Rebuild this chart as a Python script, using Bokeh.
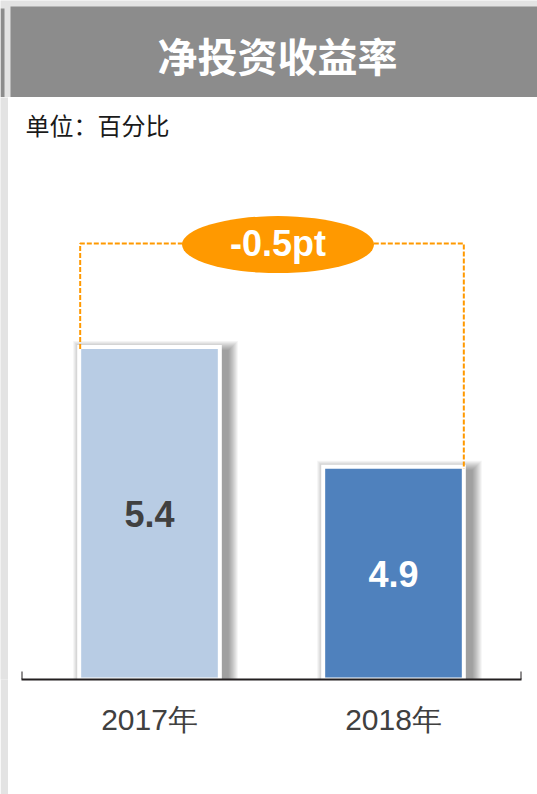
from bokeh.plotting import figure
from bokeh.layouts import column, row
from bokeh.models import ColumnDataSource, FactorRange, Range1d
from bokeh.core.properties import value
from bokeh.embed import file_html
from bokeh.resources import INLINE

# ---- data ----
title_text = "净投资收益率"
unit_text = "单位：百分比"
categories = ["2017年", "2018年"]
values = [5.4, 4.9]

# ---- style ----
bar_colors = ["#b8cce4", "#4f81bd"]
label_colors = ["#404040", "#ffffff"]
ORANGE = "#ff9900"
TITLE_BG = "#8c8c8c"
EDGE_BG = "#e3e3e3"

W = 537
TITLE_H = 97
MAIN_H = 697
STRIP_W = 8
MAIN_W = W - STRIP_W
BORDER_L = 13
BORDER_R = 16
BORDER_B = 115
FRAME_W = MAIN_W - BORDER_L - BORDER_R
FRAME_H = MAIN_H - BORDER_B

Y0, Y1 = 4.02, 6.45
RP = 0.0246
BAR_W = 0.56

n = len(categories)
px_x = (n + 2 * RP) / FRAME_W
px_y = (Y1 - Y0) / FRAME_H

# ---- title bar ----
t = figure(width=W, height=TITLE_H, x_range=Range1d(0, W), y_range=Range1d(TITLE_H, 0),
           toolbar_location=None, output_backend="svg", min_border=0,
           x_axis_location=None, y_axis_location=None, outline_line_color=None,
           background_fill_color=EDGE_BG, border_fill_color=EDGE_BG)
t.grid.visible = False
t.quad(left=[10, 0], right=[W, 4], top=[6, 8], bottom=[TITLE_H, TITLE_H],
       fill_color=TITLE_BG, line_color=None)
t.text(x=[277], y=[54], text=[title_text], text_font=value("Noto Sans CJK SC"),
       text_font_style="bold", text_font_size="40px", text_color="white",
       text_align="center", text_baseline="middle")

# ---- left edge strip ----
s = figure(width=STRIP_W, height=MAIN_H, toolbar_location=None, output_backend="svg",
           min_border=0, x_axis_location=None, y_axis_location=None,
           outline_line_color=None, background_fill_color=EDGE_BG,
           border_fill_color=EDGE_BG)
s.grid.visible = False

# ---- main chart ----
p = figure(width=MAIN_W, height=MAIN_H,
           x_range=FactorRange(factors=categories, range_padding=RP),
           y_range=Range1d(Y0, Y1),
           toolbar_location=None, output_backend="svg", y_axis_location=None,
           min_border_left=BORDER_L, min_border_right=BORDER_R,
           min_border_top=0, min_border_bottom=BORDER_B,
           outline_line_color=None, background_fill_color="white",
           border_fill_color="white")
p.grid.visible = False

centers = [i + 0.5 for i in range(n)]
lefts = [c - BAR_W / 2 for c in centers]
rights = [c + BAR_W / 2 for c in centers]

# soft drop shadows
BORDER = 4
DX, DY = 6, 6
for e in range(10, 0, -1):
    p.quad(left=[l - BORDER * px_x + (DX - e) * px_x for l in lefts],
           right=[r + BORDER * px_x + (DX + e) * px_x for r in rights],
           top=[v + (BORDER - DY + e) * px_y for v in values],
           bottom=[Y0 - 14 * px_y] * n,
           fill_color="black", fill_alpha=0.045, line_color=None)

# white frames round the bars
p.quad(left=[l - BORDER * px_x for l in lefts],
       right=[r + BORDER * px_x for r in rights],
       top=[v + BORDER * px_y for v in values],
       bottom=[Y0] * n, fill_color="white", line_color=None)

src = ColumnDataSource(dict(cat=categories, val=values, color=bar_colors,
                            mid=[(v + Y0) / 2 for v in values],
                            lab=[f"{v:.1f}" for v in values],
                            labcolor=label_colors))
p.vbar(x="cat", top="val", bottom=Y0 + 2 * px_y, width=BAR_W,
       fill_color="color", line_color=None, source=src)
p.text(x="cat", y="mid", text="lab", text_color="labcolor",
       text_font=value("Liberation Sans"), text_font_style="bold",
       text_font_size="36px", text_align="center", text_baseline="middle",
       source=src)

# difference bracket
bracket_y = max(values) + 0.44
lx = lefts[0] - 1 * px_x
rx = rights[-1] + 2 * px_x
p.multi_line(xs=[[lx, lx, rx, rx]], ys=[[values[0], bracket_y, bracket_y, values[-1]]],
             line_color=ORANGE, line_dash="5 2", line_width=2)
diff = values[-1] - values[0]
ex = (lx + rx) / 2 + 6 * px_x
p.ellipse(x=[ex], y=[bracket_y - 1 * px_y], width=192 * px_x, height=57 * px_y,
          fill_color=ORANGE, line_color=None)
p.text(x=[ex], y=[bracket_y], text=[f"{diff:+.1f}pt"], text_color="white",
       text_font=value("Liberation Sans"), text_font_style="bold",
       text_font_size="36px", text_align="center", text_baseline="middle")

# unit note
p.text(x=[-RP + 4 * px_x], y=[max(values) + (349 - 125) * px_y], text=[unit_text],
       text_font=value("Noto Sans CJK SC"), text_font_size="24px",
       text_color="#1a1a1a", text_align="left", text_baseline="middle")

# axis end ticks
p.segment(x0=[-RP, n + RP], x1=[-RP, n + RP], y0=[Y0] * 2, y1=[Y0 + 8 * px_y] * 2,
          line_color="#231f20", line_width=2)

ax = p.xaxis[0]
ax.axis_line_color = "#231f20"
ax.axis_line_width = 2
ax.major_tick_line_color = None
ax.minor_tick_line_color = None
ax.major_tick_in = 0
ax.major_tick_out = 0
ax.major_label_text_font = "Liberation Sans"
ax.major_label_text_font_size = "30px"
ax.major_label_text_color = "#404040"
ax.major_label_standoff = 23

layout = column(t, row(s, p, spacing=0), spacing=0)
open("out.html", "w").write(file_html(layout, INLINE))
